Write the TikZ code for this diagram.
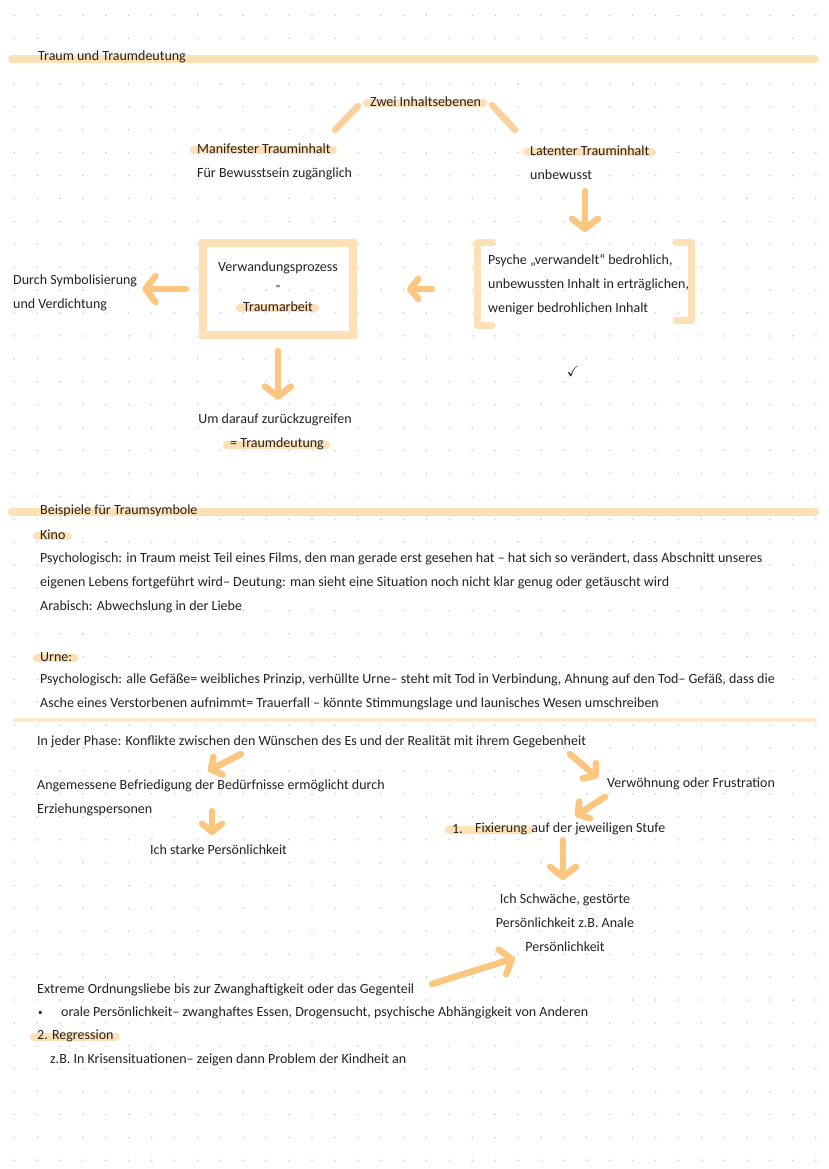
\documentclass[tikz,border=0pt]{standalone}
\usepackage{amssymb}
\usepackage{fontspec}
\setmainfont{Carlito}
\usetikzlibrary{arrows.meta, calc}
\definecolor{peach}{RGB}{253,224,182}
\definecolor{apricot}{RGB}{250,198,128}
\definecolor{griddot}{RGB}{206,206,206}
\definecolor{ink}{RGB}{38,33,33}
\pgfdeclarelayer{paper}
\pgfdeclarelayer{markers}
\pgfsetlayers{paper,markers,main}
\newcommand{\handfont}{\fontsize{14}{24}\selectfont}
\tikzset{
    note/.style={anchor=west, inner sep=0pt, font=\handfont, text=ink},
    cnote/.style={inner sep=0pt, font=\handfont, text=ink, align=center},
    headbar/.style={draw=peach, line width=8pt, line cap=round},
    marker/.style={draw=peach, line width=8.5pt, line cap=round},
    frame/.style={draw=peach, line width=7pt, line cap=round, line join=round},
    stroke/.style={draw=apricot!80, line width=6.5pt, line cap=round},
    pencil/.style={draw=apricot, line width=6.5pt, line cap=round,
        -{Straight Barb[length=10pt, width=26pt, round]}},
    smallpencil/.style={pencil, -{Straight Barb[length=8pt, width=20pt, round]}}
}

\begin{document}
\begin{tikzpicture}[x=1pt, y=-1pt]
    \useasboundingbox (0,0) rectangle (828,1169);
    \begin{pgfonlayer}{paper}
        \fill[white] (0,0) rectangle (828,1169);
        % dotted paper
        \foreach \gx in {0,...,35}
            \foreach \gy in {0,...,50}
                \fill[griddot] (14.3+\gx*22.9, 15.3+\gy*22.9) circle[radius=0.9pt];
    \end{pgfonlayer}

    % ---------- Traum und Traumdeutung ----------
    \node[note] (title) at (38,57) {Traum und Traumdeutung};
    \node[note] (zwei) at (370,102) {Zwei Inhaltsebenen};

    \node[note] (manifest) at (197,149) {Manifester Trauminhalt};
    \node[note] (manifest2) at (197,174) {Für Bewusstsein zugänglich};
    \node[note] (latent) at (530,151) {Latenter Trauminhalt};
    \node[note] (latent2) at (530,175) {unbewusst};

    % psyche between brackets
    \node[note, align=left] (psyche) at (488,285)
        {Psyche „verwandelt“ bedrohlich,\\unbewussten Inhalt in erträglichen,\\weniger bedrohlichen Inhalt};
    \draw[frame] (492,242) -- (477,242) -- (477,325) -- (492,325);
    \draw[frame] (676,242) -- (691,242) -- (691,320) -- (676,320);

    % work box
    \node[draw=peach, line width=8pt, minimum width=150pt, minimum height=92pt] (work) at (278,289) {};
    \node[cnote] (work1) at (278,268) {Verwandungsprozess};
    \node[cnote] (work2) at (278,288) {\fontsize{9}{9}\selectfont =};
    \node[cnote] (work3) at (278,307) {Traumarbeit};

    \node[note, align=left] (durch) at (13,293) {Durch Symbolisierung\\und Verdichtung};

    \node[cnote] (um) at (275,420) {Um darauf zurückzugreifen};
    \node[cnote] (deutung) at (277,444) {= Traumdeutung};

    \node[text=ink, inner sep=0pt, font=\fontsize{15}{15}\selectfont] (check) at (573,371) {$\checkmark$};

    % connectors
    \coordinate (zweiL) at (358,106);
    \coordinate (manUp) at (335,130);
    \coordinate (zweiR) at (492,105);
    \coordinate (latUp) at (515,130);
    \draw[stroke] (zweiL) -- (manUp);
    \draw[stroke] (zweiR) -- (latUp);

    \coordinate (latOut) at (585,191);
    \coordinate (psyIn) at (585,232);
    \draw[pencil] (latOut) -- (psyIn);
    \draw[smallpencil, shorten <=56pt, shorten >=50pt] (psyche.west |- work.east) -- (work.east);
    \draw[pencil, shorten <=13pt, shorten >=5pt] (work.west) -- (durch.east |- work.west);
    \draw[pencil, shorten <=12pt, shorten >=14pt] (work.south) -- (um.north -| work.south);

    % ---------- Beispiele ----------
    \node[note] (beispiele) at (40,511) {Beispiele für Traumsymbole};
    \node[note] (kino) at (40,535) {Kino};
    \node[note] (kino1) at (40,559) {Psychologisch: in Traum meist Teil eines Films, den man gerade erst gesehen hat – hat sich so verändert, dass Abschnitt unseres};
    \node[note] (kino2) at (40,583) {eigenen Lebens fortgeführt wird– Deutung: man sieht eine Situation noch nicht klar genug oder getäuscht wird};
    \node[note] (kino3) at (40,607) {Arabisch: Abwechslung in der Liebe};

    \node[note] (urne) at (40,657) {Urne:};
    \node[note] (urne1) at (40,680) {Psychologisch: alle Gefäße= weibliches Prinzip, verhüllte Urne– steht mit Tod in Verbindung, Ahnung auf den Tod– Gefäß, dass die};
    \node[note] (urne2) at (40,704) {Asche eines Verstorbenen aufnimmt= Trauerfall – könnte Stimmungslage und launisches Wesen umschreiben};

    % ---------- Phasen ----------
    \node[note] (phase) at (37,742) {In jeder Phase: Konflikte zwischen den Wünschen des Es und der Realität mit ihrem Gegebenheit};
    \node[note, align=left] (befried) at (37,798) {Angemessene Befriedigung der Bedürfnisse ermöglicht durch\\Erziehungspersonen};
    \node[note] (stark) at (150,850) {Ich starke Persönlichkeit};
    \node[note] (verwoehn) at (607,784) {Verwöhnung oder Frustration};
    \node[note] (fixnum) at (452,829) {1.};
    \node[note] (fix) at (475,829) {Fixierung};
    \node[note] (fixrest) at ([xshift=3.8pt]fix.east) {auf der jeweiligen Stufe};
    \node[cnote] (schwach) at (565,923) {Ich Schwäche, gestörte\\Persönlichkeit z.B. Anale\\Persönlichkeit};
    \node[note] (extrem) at (37,990) {Extreme Ordnungsliebe bis zur Zwanghaftigkeit oder das Gegenteil};
    \node[note] (bullet) at (38,1013) {\fontsize{9}{9}\selectfont •};
    \node[note] (oral) at (61,1013) {orale Persönlichkeit– zwanghaftes Essen, Drogensucht, psychische Abhängigkeit von Anderen};
    \node[note] (regress) at (37,1036) {2. Regression};
    \node[note] (krise) at (50,1060) {z.B. In Krisensituationen– zeigen dann Problem der Kindheit an};

    \coordinate (phaseL) at (241,754);
    \coordinate (befriedIn) at (208,771);
    \coordinate (phaseR) at (570,754);
    \coordinate (verwoehnIn) at (598,778);
    \coordinate (verwoehnOut) at (605,797);
    \coordinate (fixIn) at (575,816);
    \coordinate (befriedOut) at (212,811);
    \coordinate (starkIn) at (212,835);
    \coordinate (fixOut) at (563,840);
    \coordinate (schwachIn) at (563,880);
    \coordinate (extremOut) at (432,984);
    \coordinate (schwachL) at (515,958);
    \draw[smallpencil] (phaseL) -- (befriedIn);
    \draw[smallpencil] (phaseR) -- (verwoehnIn);
    \draw[smallpencil] (verwoehnOut) -- (fixIn);
    \draw[smallpencil] (befriedOut) -- (starkIn);
    \draw[pencil] (fixOut) -- (schwachIn);
    \draw[pencil] (extremOut) -- (schwachL);

    % highlighter
    \begin{pgfonlayer}{markers}
        \draw[headbar] (12,59) -- (815,59);
        \draw[headbar] (12,512) -- (815,512);
        \draw[headbar, line width=4pt, draw=peach!70] (15,720) -- (815,720);
        \foreach \hl in {zwei, manifest, latent, work3, deutung, kino, urne, regress}
            \draw[marker] ([xshift=-3pt, yshift=-1pt]\hl.west) -- ([xshift=2pt, yshift=-1pt]\hl.east);
        \draw[marker] ([xshift=-3pt, yshift=-1pt]fixnum.west) -- ([xshift=2pt, yshift=-1pt]fix.east);
    \end{pgfonlayer}
\end{tikzpicture}
\end{document}
